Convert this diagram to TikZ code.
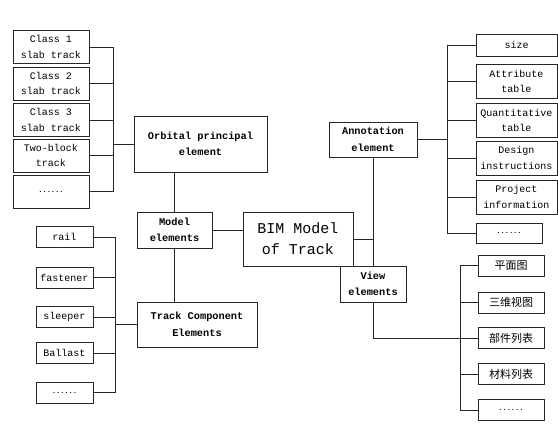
\documentclass[tikz,border=0pt]{standalone}
\usepackage{fontspec}
\setmonofont{Liberation Mono}
\newfontfamily\cjk{Noto Sans CJK SC}

\begin{document}
\begin{tikzpicture}[x=1pt,y=-1pt,line width=0.8pt,draw=black!85,
  box/.style={draw,rectangle,inner sep=0pt,align=center,font=\ttfamily\fontsize{10}{15.5}\selectfont},
  bbox/.style={box,font=\ttfamily\bfseries\fontsize{10.3}{16.5}\selectfont},
  cbox/.style={box,font=\cjk\fontsize{11}{13}\selectfont},
  dotbox/.style={box,font=\ttfamily\bfseries\fontsize{7}{8}\selectfont}]
  \useasboundingbox (0,0) rectangle (558,437);
  % centre
  \node[box,minimum width=110pt,minimum height=54pt,font=\ttfamily\fontsize{15}{21}\selectfont] (bim) at (298,239) {BIM Model\\of Track};
  \node[bbox,minimum width=75pt,minimum height=36pt] (model) at (174.5,230) {Model\\elements};
  \node[bbox,minimum width=133pt,minimum height=56pt] (orb) at (200.5,144) {Orbital principal\\element};
  \node[bbox,minimum width=120pt,minimum height=45pt] (tce) at (197,324.5) {Track Component\\Elements};
  \node[bbox,minimum width=88pt,minimum height=35pt] (ann) at (373,139.5) {Annotation\\element};
  \node[bbox,minimum width=66pt,minimum height=36pt] (view) at (373,284) {View\\elements};
  \draw (model.east) -- (model.east -| bim.west);
  \draw (model.north) -- (model.north |- orb.south);
  \draw (model.south) -- (model.south |- tce.north);
  \draw (ann.south) -- (view.north);
  \draw (bim.east) -- (bim.east -| ann.south);
  % (a) orbital principal element
  \coordinate (obus) at (113,0);
  \foreach \n/\y/\t in {c1/47/Class 1\\slab track,c2/83.5/Class 2\\slab track,c3/120/Class 3\\slab track,tb/155.5/Two-block\\track}
     \node[box,minimum width=76pt,minimum height=33pt] (\n) at (51,\y) {\t};
  \node[dotbox,minimum width=76pt,minimum height=33pt] (od) at (51,191.5) {......};
  \foreach \n in {c1,c2,c3,tb,od} \draw (\n.east) -- (\n.east -| obus);
  \draw (c1.east -| obus) -- (od.east -| obus);
  \draw (orb.west) -- (orb.west -| obus);
  % (b) track components
  \coordinate (tbus) at (115,0);
  \foreach \n/\y/\t in {rail/237/rail,fast/277.5/fastener,slp/317/sleeper,bal/353/Ballast}
     \node[box,minimum width=57pt,minimum height=21pt] (\n) at (64.5,\y) {\t};
  \node[dotbox,minimum width=57pt,minimum height=21pt] (td) at (64.5,392.5) {......};
  \foreach \n in {rail,fast,slp,bal,td} \draw (\n.east) -- (\n.east -| tbus);
  \draw (rail.east -| tbus) -- (td.east -| tbus);
  \draw (tce.west) -- (tce.west -| tbus);
  % (c) annotation
  \coordinate (abus) at (447,0);
  \node[box,minimum width=81pt,minimum height=22pt] (size) at (516.5,45) {size};
  \foreach \n/\y/\t in {attr/81.5/Attribute\\table,quant/120.5/Quantitative\\table,design/158/Design\\instructions,proj/197/Project\\information}
     \node[box,minimum width=81pt,minimum height=34pt] (\n) at (516.5,\y) {\t};
  \node[dotbox,minimum width=66pt,minimum height=20pt] (ad) at (509,233) {......};
  \foreach \n in {size,attr,quant,design,proj,ad} \draw (\n.west) -- (\n.west -| abus);
  \draw (size.west -| abus) -- (ad.west -| abus);
  \draw (ann.east) -- (ann.east -| abus);
  % (d) view
  \coordinate (vbus) at (460,0);
  \foreach \n/\y/\t in {pm/265.5/平面图,sw/302.5/三维视图,bj/338/部件列表,cl/374/材料列表}
     \node[cbox,minimum width=66pt,minimum height=21pt] (\n) at (511,\y) {\t};
  \node[dotbox,minimum width=66pt,minimum height=21pt] (vd) at (511,410) {......};
  \foreach \n in {pm,sw,bj,cl,vd} \draw (\n.west) -- (\n.west -| vbus);
  \draw (pm.west -| vbus) -- (vd.west -| vbus);
  \draw (view.south) |- (bj.west);
\end{tikzpicture}
\end{document}
